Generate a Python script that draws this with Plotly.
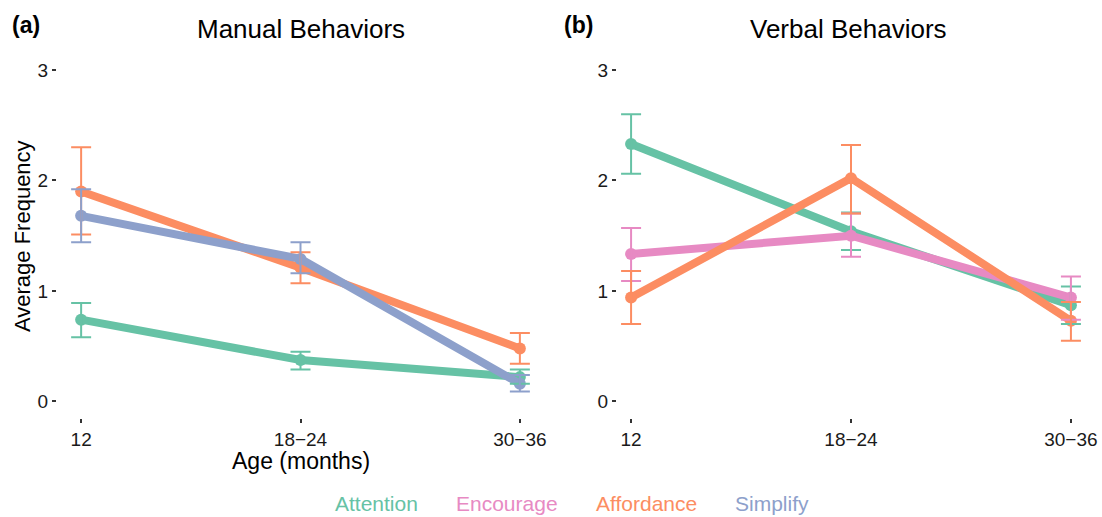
import plotly.graph_objects as go

W, H = 1102, 517

# Age groups on the x axis
ages = ["12", "18\u221224", "30\u221236"]
x_pos = [0, 1, 2]

# Panel (a): manual behaviors — means and error-bar bounds
man_attention = [0.74, 0.375, 0.22]
man_attention_lo = [0.58, 0.29, 0.16]
man_attention_hi = [0.89, 0.45, 0.29]

man_affordance = [1.90, 1.21, 0.48]
man_affordance_lo = [1.51, 1.07, 0.34]
man_affordance_hi = [2.30, 1.35, 0.62]

man_simplify = [1.68, 1.29, 0.16]
man_simplify_lo = [1.44, 1.16, 0.09]
man_simplify_hi = [1.92, 1.44, 0.24]

# Panel (b): verbal behaviors — means and error-bar bounds
verb_attention = [2.33, 1.54, 0.87]
verb_attention_lo = [2.06, 1.37, 0.70]
verb_attention_hi = [2.60, 1.71, 1.04]

verb_encourage = [1.335, 1.50, 0.94]
verb_encourage_lo = [1.09, 1.31, 0.74]
verb_encourage_hi = [1.57, 1.70, 1.13]

verb_affordance = [0.94, 2.02, 0.73]
verb_affordance_lo = [0.70, 1.70, 0.55]
verb_affordance_hi = [1.18, 2.32, 0.90]

colors = {
    "Attention": "#66C2A5",
    "Encourage": "#E78AC3",
    "Affordance": "#FC8D62",
    "Simplify": "#8DA0CB",
}

FONT = "Liberation Sans, Arial, sans-serif"


def px_x(p):
    return p / W


def px_y(p):
    return 1 - p / H


fig = go.Figure()


def add_series(name, y, lo, hi, xa, ya):
    fig.add_trace(go.Scatter(
        x=x_pos, y=y, mode="lines+markers", name=name,
        line=dict(color=colors[name], width=8),
        marker=dict(color=colors[name], size=12),
        xaxis=xa, yaxis=ya, showlegend=False, hoverinfo="skip",
    ))


def add_errors(name, y, lo, hi, xa, ya):
    fig.add_trace(go.Scatter(
        x=x_pos, y=y, mode="markers",
        marker=dict(color="rgba(0,0,0,0)", size=1),
        error_y=dict(
            type="data", symmetric=False,
            array=[h - v for h, v in zip(hi, y)],
            arrayminus=[v - l for v, l in zip(y, lo)],
            color=colors[name], thickness=2, width=10,
        ),
        xaxis=xa, yaxis=ya, showlegend=False, hoverinfo="skip",
    ))


manual = [
    ("Attention", man_attention, man_attention_lo, man_attention_hi),
    ("Affordance", man_affordance, man_affordance_lo, man_affordance_hi),
    ("Simplify", man_simplify, man_simplify_lo, man_simplify_hi),
]
verbal = [
    ("Attention", verb_attention, verb_attention_lo, verb_attention_hi),
    ("Encourage", verb_encourage, verb_encourage_lo, verb_encourage_hi),
    ("Affordance", verb_affordance, verb_affordance_lo, verb_affordance_hi),
]

for s in manual:
    add_series(*s, "x", "y")
for s in manual:
    add_errors(*s, "x", "y")
for s in verbal:
    add_series(*s, "x2", "y2")
for s in verbal:
    add_errors(*s, "x2", "y2")

tickfont = dict(family=FONT, size=19, color="#1a1a1a")
y_dom = [px_y(418), px_y(53.4)]

xcommon = dict(
    tickmode="array", tickvals=x_pos, ticktext=ages,
    showgrid=False, zeroline=False, showline=False, automargin=False,
    ticks="outside", ticklen=4, tickwidth=2, tickcolor="#333333",
    tickfont=tickfont,
)
ycommon = dict(
    range=[-0.15, 3.15], tickvals=[0, 1, 2, 3],
    showgrid=False, zeroline=False, showline=False, automargin=False,
    ticks="outside", ticklen=4, tickwidth=2, tickcolor="#333333",
    tickfont=tickfont, domain=y_dom,
)

fig.update_layout(
    width=W, height=H, autosize=False,
    margin=dict(l=0, r=0, t=0, b=0),
    paper_bgcolor="white", plot_bgcolor="white",
    font=dict(family=FONT, color="black"),
    xaxis=dict(domain=[px_x(57), px_x(544)], range=[-0.11, 2.11], anchor="y", **xcommon),
    yaxis=dict(anchor="x", **ycommon),
    xaxis2=dict(domain=[px_x(617), px_x(1085)], range=[-0.064, 2.064], anchor="y2", **xcommon),
    yaxis2=dict(anchor="x2", **ycommon),
)

annotations = [
    dict(text="Manual Behaviors", x=px_x(300.5), y=px_y(29), font=dict(size=26)),
    dict(text="Verbal Behaviors", x=px_x(848), y=px_y(29), font=dict(size=26)),
    dict(text="<b>(a)</b>", x=px_x(26), y=px_y(25), font=dict(size=23)),
    dict(text="<b>(b)</b>", x=px_x(578), y=px_y(25), font=dict(size=23)),
    dict(text="Age (months)", x=px_x(301), y=px_y(461), font=dict(size=23)),
    dict(text="Average Frequency", x=px_x(22), y=px_y(236), font=dict(size=22), textangle=-90),
]
legend_items = [("Attention", 376), ("Encourage", 507), ("Affordance", 646.5), ("Simplify", 771.5)]
for name, cx in legend_items:
    annotations.append(dict(text=name, x=px_x(cx), y=px_y(503),
                            font=dict(size=21, color=colors[name])))

for a in annotations:
    a.setdefault("font", {})
    a["font"].setdefault("color", "black")
    a["font"]["family"] = FONT
    fig.add_annotation(xref="paper", yref="paper", showarrow=False,
                       xanchor="center", yanchor="middle", **a)

fig.write_html("out.html", config={"responsive": False})
